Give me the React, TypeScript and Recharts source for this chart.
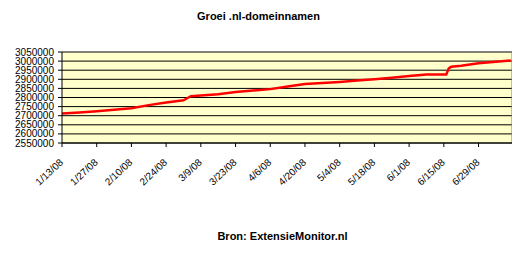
import React from "react";
import {
  LineChart,
  Line,
  XAxis,
  YAxis,
  CartesianGrid,
  ReferenceLine,
} from "recharts";

const startDate = "2008-01-13";
const dates = [
  "2008-01-13", "2008-01-20", "2008-01-27", "2008-02-03", "2008-02-10",
  "2008-02-17", "2008-02-24", "2008-03-02", "2008-03-04", "2008-03-05",
  "2008-03-09", "2008-03-16", "2008-03-23", "2008-03-30", "2008-04-06",
  "2008-04-13", "2008-04-20", "2008-04-27", "2008-05-04", "2008-05-11",
  "2008-05-18", "2008-05-25", "2008-06-01", "2008-06-08", "2008-06-15",
  "2008-06-16", "2008-06-17", "2008-06-18", "2008-06-22", "2008-06-29",
  "2008-07-06", "2008-07-12",
];
const domains = [
  2712000, 2718000, 2725000, 2733000, 2741000,
  2758000, 2773000, 2785000, 2800000, 2807000,
  2811000, 2818000, 2830000, 2838000, 2846000,
  2860000, 2874000, 2879000, 2885000, 2893000,
  2900000, 2909000, 2918000, 2926000, 2927000,
  2927000, 2960000, 2969000, 2975000, 2988000,
  2996000, 3003000,
];
const xTickLabels = [
  "1/13/08", "1/27/08", "2/10/08", "2/24/08", "3/9/08", "3/23/08", "4/6/08",
  "4/20/08", "5/4/08", "5/18/08", "6/1/08", "6/15/08", "6/29/08",
];
const yTicks = [
  2550000, 2600000, 2650000, 2700000, 2750000, 2800000, 2850000, 2900000,
  2950000, 3000000, 3050000,
];
const title = "Groei .nl-domeinnamen";
const source = "Bron: ExtensieMonitor.nl";

const DAY = 86400000;
const t0 = Date.parse(startDate);
const dayOf = (d: string) => Math.round((Date.parse(d) - t0) / DAY);
const data = dates.map((d, i) => ({ day: dayOf(d), value: domains[i] }));
const xTicks = xTickLabels.map((_, i) => i * 14);
const xMax = 181.5;

const font = "'Liberation Sans', Arial, sans-serif";

const XTick = (props: any) => {
  const { x, y, payload } = props;
  const label = xTickLabels[Math.round(payload.value / 14)];
  const ax = x - 3;
  const ay = y + 9;
  return (
    <text
      x={ax}
      y={ay}
      dy={7}
      textAnchor="end"
      fontSize={10}
      fontFamily={font}
      fill="#000"
      transform={`rotate(-43, ${ax}, ${ay})`}
    >
      {label}
    </text>
  );
};

export default function App() {
  return (
    <div style={{ position: "relative", width: 520, height: 260, fontFamily: font }}>
      <div
        style={{
          position: "absolute",
          left: 0,
          width: 501,
          top: 2,
          textAlign: "center",
          fontSize: 11,
          fontWeight: "bold",
          lineHeight: "13px",
        }}
      >
        {title}
      </div>
      <LineChart
        width={520}
        height={260}
        data={data}
        margin={{ top: 44, right: 16, bottom: 95, left: 0 }}
      >
        <CartesianGrid
          vertical={false}
          stroke="#000"
          strokeWidth={1}
          fill="#FFFFCC"
          fillOpacity={1}
        />
        <XAxis
          dataKey="day"
          type="number"
          domain={[0, xMax]}
          ticks={xTicks}
          interval={0}
          stroke="#000"
          tickSize={4}
          tick={<XTick />}
          allowDataOverflow
        />
        <YAxis
          type="number"
          domain={[2550000, 3050000]}
          ticks={yTicks}
          interval={0}
          width={54}
          stroke="#000"
          tickSize={4}
          tickMargin={4}
          tick={{ fontSize: 10, fill: "#000", fontFamily: font }}
        />
        <ReferenceLine y={3050000} stroke="#808080" strokeWidth={1} />
        <ReferenceLine x={xMax} stroke="#808080" strokeWidth={1} />
        <Line
          type="linear"
          dataKey="value"
          stroke="#FF0000"
          strokeWidth={2.5}
          dot={false}
          isAnimationActive={false}
        />
      </LineChart>
      <div
        style={{
          position: "absolute",
          left: 0,
          width: 549,
          top: 222,
          textAlign: "center",
          fontSize: 11,
          fontWeight: "bold",
          lineHeight: "13px",
        }}
      >
        {source}
      </div>
    </div>
  );
}
